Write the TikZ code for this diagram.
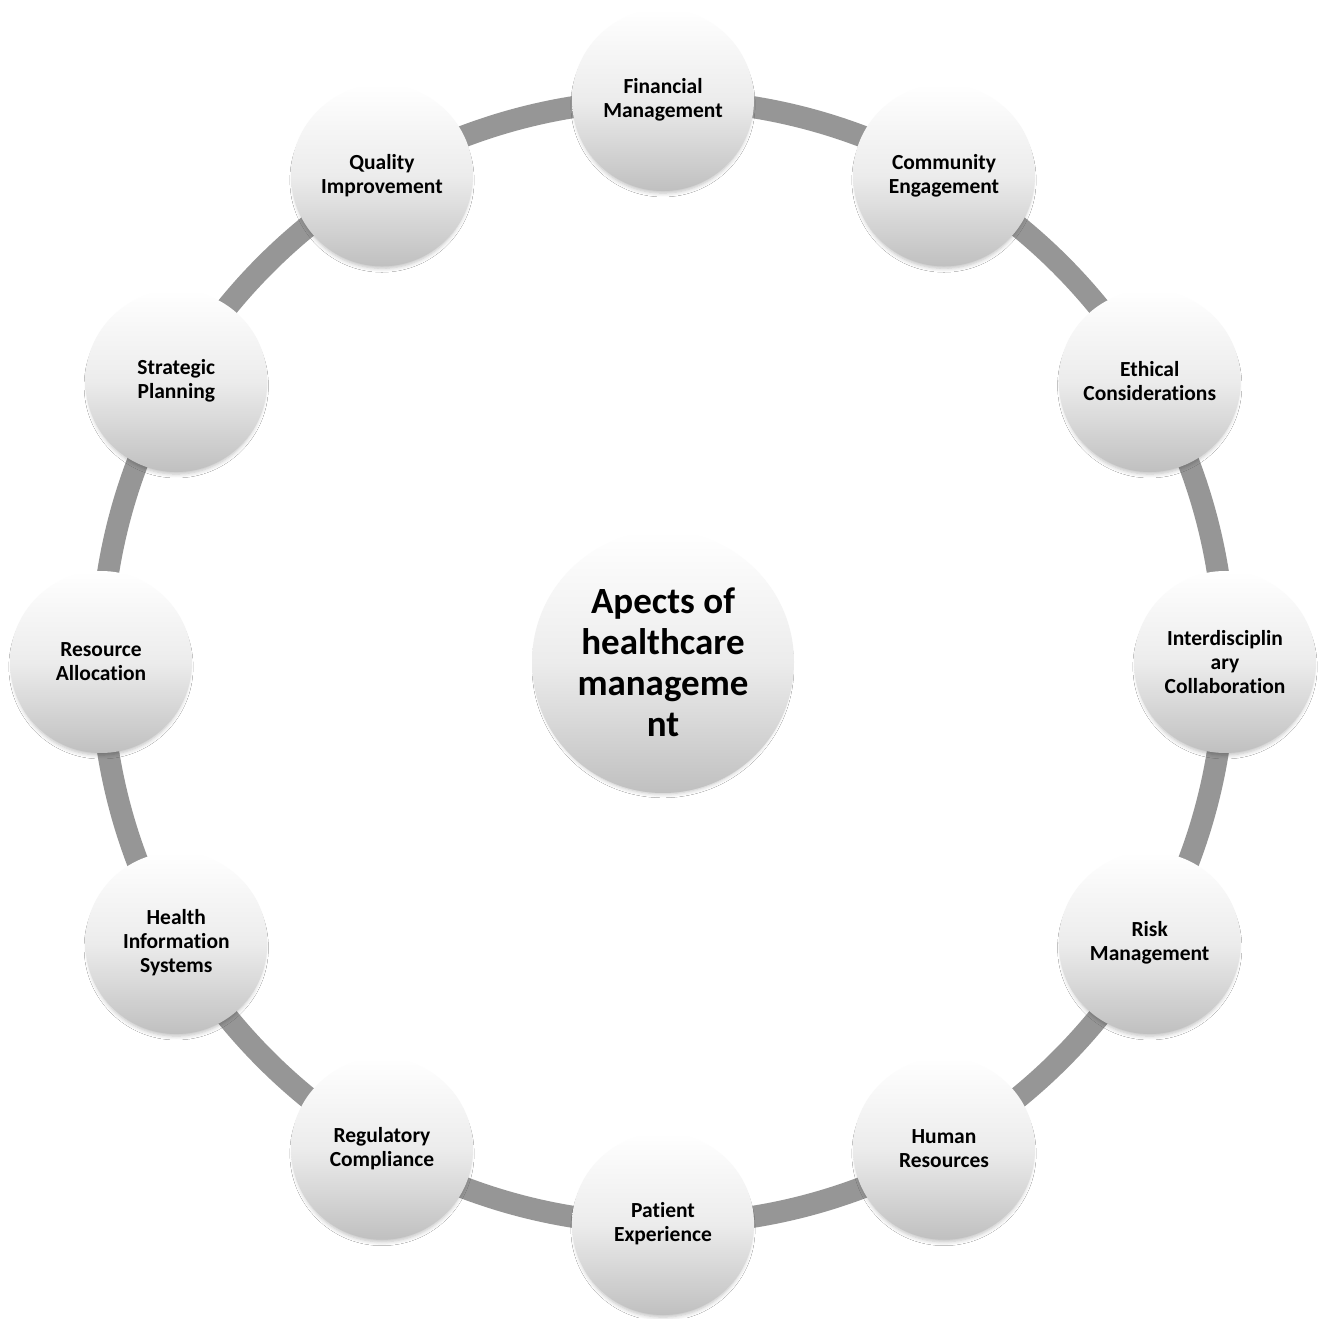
\documentclass[tikz,border=0pt]{standalone}
\usepackage{fontspec}
\setmainfont{Carlito}[Ligatures=NoCommon]
\usepackage{tikz}
\usetikzlibrary{calc,positioning,shadows.blur}

\tikzset{
  ball/.style={circle,draw=none,inner sep=0pt,align=center,
    top color=white,bottom color=ballBottom,middle color=ballMid,
    blur shadow={shadow xshift=0pt,shadow yshift=-5pt,shadow scale=0.97,shadow blur steps=5,shadow opacity=25,shadow blur radius=4pt}},
  aspect/.style={ball,minimum size=182pt,font=\bfseries\fontsize{21.5}{24}\selectfont},
  hub/.style={ball,minimum size=262pt,font=\bfseries\fontsize{37}{41}\selectfont}
}

\begin{document}
\begin{tikzpicture}[x=1pt,y=1pt]
\definecolor{ballBottom}{RGB}{192,192,192}
\definecolor{ballMid}{RGB}{236,236,236}
\definecolor{ringColor}{RGB}{150,150,150}
\path[use as bounding box,fill=white] (0,0) rectangle (1328,1318);

\coordinate (c) at (663,656);

% ring behind the aspects
\path[draw=ringColor,line width=22pt] (c) circle (562);

\node[hub] (centre) at (c) {Apects of\\healthcare\\manageme\\nt};

\node[aspect] (financial) at ($(c)+(90:562)$) {Financial\\Management};
\node[aspect] (community) at ($(c)+(60:562)$) {Community\\Engagement};
\node[aspect] (ethical) at ($(c)+(30:562)$) {Ethical\\Considerations};
\node[aspect] (interdisc) at ($(c)+(0:562)$) {Interdisciplin\\ary\\Collaboration};
\node[aspect] (risk) at ($(c)+(-30:562)$) {Risk\\Management};
\node[aspect] (human) at ($(c)+(-60:562)$) {Human\\Resources};
\node[aspect] (patient) at ($(c)+(-90:562)$) {Patient\\Experience};
\node[aspect] (regulatory) at ($(c)+(-120:562)$) {Regulatory\\Compliance};
\node[aspect] (healthinfo) at ($(c)+(-150:562)$) {Health\\Information\\Systems};
\node[aspect] (resource) at ($(c)+(180:562)$) {Resource\\Allocation};
\node[aspect] (strategic) at ($(c)+(150:562)$) {Strategic\\Planning};
\node[aspect] (quality) at ($(c)+(120:562)$) {Quality\\Improvement};
\end{tikzpicture}
\end{document}
